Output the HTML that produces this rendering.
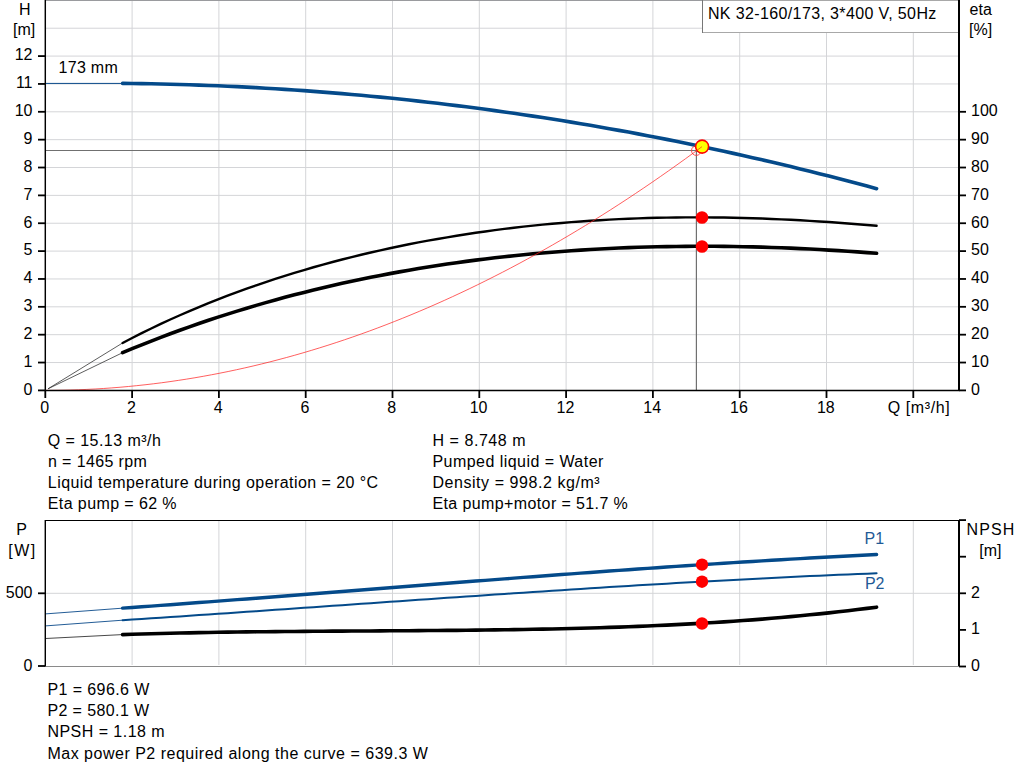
<!DOCTYPE html>
<html><head><meta charset="utf-8"><style>
html,body{margin:0;padding:0;background:#fff;width:1024px;height:781px;overflow:hidden}
svg{display:block}
</style></head><body>
<svg width="1024" height="781" viewBox="0 0 1024 781">
<line x1="132.10" y1="0" x2="132.10" y2="390" stroke="#d4d5d8" stroke-width="1"/>
<line x1="218.90" y1="0" x2="218.90" y2="390" stroke="#d4d5d8" stroke-width="1"/>
<line x1="305.70" y1="0" x2="305.70" y2="390" stroke="#d4d5d8" stroke-width="1"/>
<line x1="392.50" y1="0" x2="392.50" y2="390" stroke="#d4d5d8" stroke-width="1"/>
<line x1="479.30" y1="0" x2="479.30" y2="390" stroke="#d4d5d8" stroke-width="1"/>
<line x1="566.10" y1="0" x2="566.10" y2="390" stroke="#d4d5d8" stroke-width="1"/>
<line x1="652.90" y1="0" x2="652.90" y2="390" stroke="#d4d5d8" stroke-width="1"/>
<line x1="739.70" y1="0" x2="739.70" y2="390" stroke="#d4d5d8" stroke-width="1"/>
<line x1="826.50" y1="0" x2="826.50" y2="390" stroke="#d4d5d8" stroke-width="1"/>
<line x1="913.30" y1="0" x2="913.30" y2="390" stroke="#d4d5d8" stroke-width="1"/>
<line x1="45" y1="362.54" x2="959" y2="362.54" stroke="#d4d5d8" stroke-width="1"/>
<line x1="45" y1="334.68" x2="959" y2="334.68" stroke="#d4d5d8" stroke-width="1"/>
<line x1="45" y1="306.82" x2="959" y2="306.82" stroke="#d4d5d8" stroke-width="1"/>
<line x1="45" y1="278.96" x2="959" y2="278.96" stroke="#d4d5d8" stroke-width="1"/>
<line x1="45" y1="251.10" x2="959" y2="251.10" stroke="#d4d5d8" stroke-width="1"/>
<line x1="45" y1="223.24" x2="959" y2="223.24" stroke="#d4d5d8" stroke-width="1"/>
<line x1="45" y1="195.38" x2="959" y2="195.38" stroke="#d4d5d8" stroke-width="1"/>
<line x1="45" y1="167.52" x2="959" y2="167.52" stroke="#d4d5d8" stroke-width="1"/>
<line x1="45" y1="139.66" x2="959" y2="139.66" stroke="#d4d5d8" stroke-width="1"/>
<line x1="45" y1="111.80" x2="959" y2="111.80" stroke="#d4d5d8" stroke-width="1"/>
<line x1="45" y1="83.94" x2="959" y2="83.94" stroke="#d4d5d8" stroke-width="1"/>
<line x1="45" y1="56.08" x2="959" y2="56.08" stroke="#d4d5d8" stroke-width="1"/>
<line x1="45" y1="28.22" x2="959" y2="28.22" stroke="#d4d5d8" stroke-width="1"/>
<line x1="45" y1="0.5" x2="959" y2="0.5" stroke="#9a9b9e" stroke-width="1"/>
<line x1="132.10" y1="520" x2="132.10" y2="665" stroke="#d4d5d8" stroke-width="1"/>
<line x1="218.90" y1="520" x2="218.90" y2="665" stroke="#d4d5d8" stroke-width="1"/>
<line x1="305.70" y1="520" x2="305.70" y2="665" stroke="#d4d5d8" stroke-width="1"/>
<line x1="392.50" y1="520" x2="392.50" y2="665" stroke="#d4d5d8" stroke-width="1"/>
<line x1="479.30" y1="520" x2="479.30" y2="665" stroke="#d4d5d8" stroke-width="1"/>
<line x1="566.10" y1="520" x2="566.10" y2="665" stroke="#d4d5d8" stroke-width="1"/>
<line x1="652.90" y1="520" x2="652.90" y2="665" stroke="#d4d5d8" stroke-width="1"/>
<line x1="739.70" y1="520" x2="739.70" y2="665" stroke="#d4d5d8" stroke-width="1"/>
<line x1="826.50" y1="520" x2="826.50" y2="665" stroke="#d4d5d8" stroke-width="1"/>
<line x1="913.30" y1="520" x2="913.30" y2="665" stroke="#d4d5d8" stroke-width="1"/>
<line x1="45" y1="593.30" x2="959" y2="593.30" stroke="#d4d5d8" stroke-width="1"/>
<line x1="45" y1="150.5" x2="696.4" y2="150.5" stroke="#707070" stroke-width="1.2"/>
<line x1="696.4" y1="150.5" x2="696.4" y2="390" stroke="#707070" stroke-width="1.2"/>
<line x1="45" y1="83.42" x2="122.6" y2="83.42" stroke="#0a4a8a" stroke-width="1"/>
<line x1="48" y1="388.8" x2="122.6" y2="342.96" stroke="#333" stroke-width="0.8"/>
<line x1="48" y1="388.8" x2="122.6" y2="352.67" stroke="#333" stroke-width="0.8"/>
<path d="M122.60,83.42 L132.14,83.51 L141.69,83.64 L151.23,83.81 L160.78,84.00 L170.32,84.22 L179.87,84.48 L189.41,84.76 L198.95,85.08 L208.50,85.43 L218.04,85.81 L227.59,86.23 L237.13,86.67 L246.68,87.15 L256.22,87.65 L265.76,88.19 L275.31,88.76 L284.85,89.36 L294.40,90.00 L303.94,90.66 L313.49,91.36 L323.03,92.09 L332.57,92.85 L342.12,93.64 L351.66,94.46 L361.21,95.31 L370.75,96.20 L380.30,97.12 L389.84,98.07 L399.38,99.05 L408.93,100.06 L418.47,101.10 L428.02,102.18 L437.56,103.29 L447.11,104.43 L456.65,105.60 L466.19,106.80 L475.74,108.03 L485.28,109.30 L494.83,110.60 L504.37,111.93 L513.92,113.29 L523.46,114.68 L533.01,116.11 L542.55,117.56 L552.09,119.05 L561.64,120.57 L571.18,122.12 L580.73,123.71 L590.27,125.32 L599.82,126.97 L609.36,128.65 L618.90,130.36 L628.45,132.10 L637.99,133.88 L647.54,135.68 L657.08,137.52 L666.63,139.39 L676.17,141.30 L685.71,143.23 L695.26,145.20 L704.80,147.20 L714.35,149.23 L723.89,151.29 L733.44,153.38 L742.98,155.51 L752.52,157.67 L762.07,159.86 L771.61,162.08 L781.16,164.33 L790.70,166.62 L800.25,168.94 L809.79,171.29 L819.33,173.67 L828.88,176.09 L838.42,178.53 L847.97,181.01 L857.51,183.52 L867.06,186.06 L876.60,188.64" fill="none" stroke="#044a8a" stroke-width="3.6" stroke-linecap="round"/>
<path d="M122.60,342.96 L132.14,337.99 L141.69,333.17 L151.23,328.49 L160.78,323.95 L170.32,319.53 L179.87,315.25 L189.41,311.10 L198.95,307.07 L208.50,303.15 L218.04,299.36 L227.59,295.68 L237.13,292.11 L246.68,288.65 L256.22,285.30 L265.76,282.05 L275.31,278.90 L284.85,275.85 L294.40,272.89 L303.94,270.03 L313.49,267.26 L323.03,264.59 L332.57,262.00 L342.12,259.50 L351.66,257.09 L361.21,254.75 L370.75,252.51 L380.30,250.34 L389.84,248.25 L399.38,246.24 L408.93,244.30 L418.47,242.44 L428.02,240.66 L437.56,238.95 L447.11,237.31 L456.65,235.74 L466.19,234.24 L475.74,232.81 L485.28,231.45 L494.83,230.16 L504.37,228.93 L513.92,227.77 L523.46,226.67 L533.01,225.64 L542.55,224.68 L552.09,223.77 L561.64,222.93 L571.18,222.15 L580.73,221.43 L590.27,220.77 L599.82,220.18 L609.36,219.64 L618.90,219.16 L628.45,218.73 L637.99,218.37 L647.54,218.06 L657.08,217.81 L666.63,217.61 L676.17,217.47 L685.71,217.39 L695.26,217.35 L704.80,217.37 L714.35,217.45 L723.89,217.57 L733.44,217.74 L742.98,217.97 L752.52,218.24 L762.07,218.56 L771.61,218.93 L781.16,219.34 L790.70,219.80 L800.25,220.31 L809.79,220.85 L819.33,221.44 L828.88,222.07 L838.42,222.74 L847.97,223.45 L857.51,224.19 L867.06,224.96 L876.60,225.78" fill="none" stroke="#000" stroke-width="2.4" stroke-linecap="round"/>
<path d="M122.60,352.67 L132.14,348.70 L141.69,344.83 L151.23,341.05 L160.78,337.37 L170.32,333.78 L179.87,330.28 L189.41,326.87 L198.95,323.55 L208.50,320.31 L218.04,317.16 L227.59,314.09 L237.13,311.10 L246.68,308.20 L256.22,305.37 L265.76,302.62 L275.31,299.96 L284.85,297.36 L294.40,294.85 L303.94,292.41 L313.49,290.04 L323.03,287.74 L332.57,285.52 L342.12,283.36 L351.66,281.28 L361.21,279.27 L370.75,277.32 L380.30,275.44 L389.84,273.62 L399.38,271.87 L408.93,270.19 L418.47,268.57 L428.02,267.01 L437.56,265.52 L447.11,264.08 L456.65,262.71 L466.19,261.40 L475.74,260.14 L485.28,258.95 L494.83,257.81 L504.37,256.73 L513.92,255.71 L523.46,254.74 L533.01,253.83 L542.55,252.98 L552.09,252.17 L561.64,251.43 L571.18,250.73 L580.73,250.09 L590.27,249.50 L599.82,248.96 L609.36,248.47 L618.90,248.03 L628.45,247.65 L637.99,247.31 L647.54,247.02 L657.08,246.78 L666.63,246.58 L676.17,246.44 L685.71,246.34 L695.26,246.28 L704.80,246.28 L714.35,246.31 L723.89,246.39 L733.44,246.52 L742.98,246.69 L752.52,246.90 L762.07,247.16 L771.61,247.45 L781.16,247.79 L790.70,248.17 L800.25,248.59 L809.79,249.05 L819.33,249.54 L828.88,250.08 L838.42,250.65 L847.97,251.27 L857.51,251.91 L867.06,252.60 L876.60,253.32" fill="none" stroke="#000" stroke-width="3.6" stroke-linecap="round"/>
<circle cx="696.3" cy="150.6" r="4.8" fill="none" stroke="#ff4040" stroke-width="0.9"/>
<circle cx="702" cy="217.5" r="6.3" fill="#ff0000"/>
<circle cx="702" cy="246.5" r="6.3" fill="#ff0000"/>
<circle cx="702.1" cy="146.6" r="6.5" fill="#ffff00" stroke="#ff0000" stroke-width="1.6"/>
<path d="M45.30,390.40 L53.61,390.36 L61.92,390.24 L70.24,390.05 L78.55,389.78 L86.86,389.42 L95.17,388.99 L103.48,388.49 L111.80,387.90 L120.11,387.24 L128.42,386.49 L136.73,385.67 L145.04,384.78 L153.36,383.80 L161.67,382.75 L169.98,381.61 L178.29,380.40 L186.60,379.11 L194.91,377.75 L203.23,376.30 L211.54,374.78 L219.85,373.18 L228.16,371.50 L236.47,369.74 L244.79,367.91 L253.10,365.99 L261.41,364.00 L269.72,361.93 L278.03,359.78 L286.35,357.56 L294.66,355.25 L302.97,352.87 L311.28,350.41 L319.59,347.87 L327.91,345.26 L336.22,342.56 L344.53,339.79 L352.84,336.94 L361.15,334.01 L369.47,331.00 L377.78,327.92 L386.09,324.75 L394.40,321.51 L402.71,318.19 L411.02,314.80 L419.34,311.32 L427.65,307.77 L435.96,304.14 L444.27,300.43 L452.58,296.64 L460.90,292.77 L469.21,288.83 L477.52,284.81 L485.83,280.70 L494.14,276.53 L502.46,272.27 L510.77,267.94 L519.08,263.52 L527.39,259.03 L535.70,254.46 L544.02,249.82 L552.33,245.09 L560.64,240.29 L568.95,235.41 L577.26,230.45 L585.58,225.41 L593.89,220.29 L602.20,215.10 L610.51,209.83 L618.82,204.48 L627.13,199.05 L635.45,193.54 L643.76,187.96 L652.07,182.30 L660.38,176.55 L668.69,170.74 L677.01,164.84 L685.32,158.86 L693.63,152.81 L701.94,146.68" fill="none" stroke="#ff2020" stroke-width="0.72"/>
<line x1="45.5" y1="613.9" x2="122.6" y2="608.16" stroke="#0a4a8a" stroke-width="0.9"/>
<path d="M122.60,608.16 L132.14,607.47 L141.69,606.78 L151.23,606.09 L160.78,605.39 L170.32,604.69 L179.87,603.98 L189.41,603.27 L198.95,602.55 L208.50,601.83 L218.04,601.11 L227.59,600.39 L237.13,599.66 L246.68,598.93 L256.22,598.19 L265.76,597.46 L275.31,596.72 L284.85,595.98 L294.40,595.24 L303.94,594.49 L313.49,593.75 L323.03,593.00 L332.57,592.25 L342.12,591.51 L351.66,590.76 L361.21,590.01 L370.75,589.26 L380.30,588.51 L389.84,587.76 L399.38,587.01 L408.93,586.27 L418.47,585.52 L428.02,584.77 L437.56,584.03 L447.11,583.28 L456.65,582.54 L466.19,581.80 L475.74,581.06 L485.28,580.33 L494.83,579.60 L504.37,578.87 L513.92,578.14 L523.46,577.41 L533.01,576.69 L542.55,575.97 L552.09,575.26 L561.64,574.55 L571.18,573.84 L580.73,573.14 L590.27,572.44 L599.82,571.75 L609.36,571.06 L618.90,570.37 L628.45,569.70 L637.99,569.02 L647.54,568.36 L657.08,567.70 L666.63,567.04 L676.17,566.39 L685.71,565.75 L695.26,565.11 L704.80,564.48 L714.35,563.86 L723.89,563.25 L733.44,562.64 L742.98,562.04 L752.52,561.45 L762.07,560.86 L771.61,560.29 L781.16,559.72 L790.70,559.16 L800.25,558.61 L809.79,558.07 L819.33,557.54 L828.88,557.02 L838.42,556.50 L847.97,556.00 L857.51,555.51 L867.06,555.03 L876.60,554.55" fill="none" stroke="#044a8a" stroke-width="3.4" stroke-linecap="round"/>
<line x1="45.5" y1="625.9" x2="122.6" y2="620.19" stroke="#0a4a8a" stroke-width="0.9"/>
<path d="M122.60,620.19 L132.14,619.57 L141.69,618.94 L151.23,618.31 L160.78,617.68 L170.32,617.04 L179.87,616.40 L189.41,615.76 L198.95,615.11 L208.50,614.46 L218.04,613.81 L227.59,613.15 L237.13,612.49 L246.68,611.83 L256.22,611.17 L265.76,610.51 L275.31,609.85 L284.85,609.18 L294.40,608.51 L303.94,607.84 L313.49,607.18 L323.03,606.51 L332.57,605.84 L342.12,605.17 L351.66,604.50 L361.21,603.83 L370.75,603.16 L380.30,602.49 L389.84,601.82 L399.38,601.15 L408.93,600.49 L418.47,599.82 L428.02,599.16 L437.56,598.50 L447.11,597.84 L456.65,597.18 L466.19,596.53 L475.74,595.88 L485.28,595.23 L494.83,594.58 L504.37,593.94 L513.92,593.29 L523.46,592.66 L533.01,592.02 L542.55,591.40 L552.09,590.77 L561.64,590.15 L571.18,589.53 L580.73,588.92 L590.27,588.31 L599.82,587.71 L609.36,587.11 L618.90,586.52 L628.45,585.94 L637.99,585.36 L647.54,584.78 L657.08,584.21 L666.63,583.65 L676.17,583.10 L685.71,582.55 L695.26,582.01 L704.80,581.47 L714.35,580.94 L723.89,580.42 L733.44,579.91 L742.98,579.41 L752.52,578.91 L762.07,578.42 L771.61,577.94 L781.16,577.47 L790.70,577.01 L800.25,576.56 L809.79,576.12 L819.33,575.68 L828.88,575.26 L838.42,574.84 L847.97,574.44 L857.51,574.04 L867.06,573.66 L876.60,573.29" fill="none" stroke="#044a8a" stroke-width="2.0" stroke-linecap="round"/>
<line x1="45.5" y1="638.5" x2="122.6" y2="634.59" stroke="#333" stroke-width="0.9"/>
<path d="M122.60,634.59 L132.14,634.28 L141.69,634.00 L151.23,633.73 L160.78,633.48 L170.32,633.25 L179.87,633.04 L189.41,632.84 L198.95,632.65 L208.50,632.48 L218.04,632.32 L227.59,632.17 L237.13,632.04 L246.68,631.91 L256.22,631.80 L265.76,631.69 L275.31,631.60 L284.85,631.51 L294.40,631.43 L303.94,631.35 L313.49,631.28 L323.03,631.22 L332.57,631.15 L342.12,631.10 L351.66,631.04 L361.21,630.98 L370.75,630.93 L380.30,630.88 L389.84,630.82 L399.38,630.76 L408.93,630.70 L418.47,630.64 L428.02,630.57 L437.56,630.50 L447.11,630.42 L456.65,630.34 L466.19,630.25 L475.74,630.15 L485.28,630.04 L494.83,629.92 L504.37,629.79 L513.92,629.64 L523.46,629.49 L533.01,629.32 L542.55,629.14 L552.09,628.94 L561.64,628.73 L571.18,628.50 L580.73,628.26 L590.27,627.99 L599.82,627.71 L609.36,627.40 L618.90,627.08 L628.45,626.73 L637.99,626.36 L647.54,625.97 L657.08,625.55 L666.63,625.11 L676.17,624.64 L685.71,624.14 L695.26,623.62 L704.80,623.06 L714.35,622.48 L723.89,621.87 L733.44,621.22 L742.98,620.55 L752.52,619.84 L762.07,619.09 L771.61,618.31 L781.16,617.50 L790.70,616.65 L800.25,615.76 L809.79,614.83 L819.33,613.86 L828.88,612.85 L838.42,611.80 L847.97,610.71 L857.51,609.58 L867.06,608.40 L876.60,607.17" fill="none" stroke="#000" stroke-width="3.6" stroke-linecap="round"/>
<circle cx="702" cy="564.6" r="6.2" fill="#ff0000"/>
<circle cx="702" cy="581.7" r="6.2" fill="#ff0000"/>
<circle cx="702" cy="623.5" r="6.2" fill="#ff0000"/>
<rect x="702.5" y="0.5" width="256" height="32" fill="#fff" stroke="#a8a8a8" stroke-width="1"/>
<line x1="702.5" y1="0" x2="702.5" y2="33" stroke="#777" stroke-width="1"/>
<line x1="45.3" y1="0" x2="45.3" y2="391" stroke="#000" stroke-width="1.45"/>
<line x1="45" y1="390.5" x2="959.5" y2="390.5" stroke="#000" stroke-width="1.3"/>
<line x1="959" y1="0" x2="959" y2="391" stroke="#000" stroke-width="2"/>
<line x1="38" y1="390.40" x2="45.5" y2="390.40" stroke="#000" stroke-width="1.8"/>
<text x="32.5" y="394.70" text-anchor="end" font-size="16" font-family="Liberation Sans, sans-serif">0</text>
<line x1="38" y1="362.54" x2="45.5" y2="362.54" stroke="#000" stroke-width="1.8"/>
<text x="32.5" y="366.84" text-anchor="end" font-size="16" font-family="Liberation Sans, sans-serif">1</text>
<line x1="38" y1="334.68" x2="45.5" y2="334.68" stroke="#000" stroke-width="1.8"/>
<text x="32.5" y="338.98" text-anchor="end" font-size="16" font-family="Liberation Sans, sans-serif">2</text>
<line x1="38" y1="306.82" x2="45.5" y2="306.82" stroke="#000" stroke-width="1.8"/>
<text x="32.5" y="311.12" text-anchor="end" font-size="16" font-family="Liberation Sans, sans-serif">3</text>
<line x1="38" y1="278.96" x2="45.5" y2="278.96" stroke="#000" stroke-width="1.8"/>
<text x="32.5" y="283.26" text-anchor="end" font-size="16" font-family="Liberation Sans, sans-serif">4</text>
<line x1="38" y1="251.10" x2="45.5" y2="251.10" stroke="#000" stroke-width="1.8"/>
<text x="32.5" y="255.40" text-anchor="end" font-size="16" font-family="Liberation Sans, sans-serif">5</text>
<line x1="38" y1="223.24" x2="45.5" y2="223.24" stroke="#000" stroke-width="1.8"/>
<text x="32.5" y="227.54" text-anchor="end" font-size="16" font-family="Liberation Sans, sans-serif">6</text>
<line x1="38" y1="195.38" x2="45.5" y2="195.38" stroke="#000" stroke-width="1.8"/>
<text x="32.5" y="199.68" text-anchor="end" font-size="16" font-family="Liberation Sans, sans-serif">7</text>
<line x1="38" y1="167.52" x2="45.5" y2="167.52" stroke="#000" stroke-width="1.8"/>
<text x="32.5" y="171.82" text-anchor="end" font-size="16" font-family="Liberation Sans, sans-serif">8</text>
<line x1="38" y1="139.66" x2="45.5" y2="139.66" stroke="#000" stroke-width="1.8"/>
<text x="32.5" y="143.96" text-anchor="end" font-size="16" font-family="Liberation Sans, sans-serif">9</text>
<line x1="38" y1="111.80" x2="45.5" y2="111.80" stroke="#000" stroke-width="1.8"/>
<text x="32.5" y="116.10" text-anchor="end" font-size="16" font-family="Liberation Sans, sans-serif">10</text>
<line x1="38" y1="83.94" x2="45.5" y2="83.94" stroke="#000" stroke-width="1.8"/>
<text x="32.5" y="88.24" text-anchor="end" font-size="16" font-family="Liberation Sans, sans-serif">11</text>
<line x1="38" y1="56.08" x2="45.5" y2="56.08" stroke="#000" stroke-width="1.8"/>
<text x="32.5" y="60.38" text-anchor="end" font-size="16" font-family="Liberation Sans, sans-serif">12</text>
<line x1="959" y1="390.40" x2="966" y2="390.40" stroke="#000" stroke-width="1.8"/>
<text x="971" y="394.70" font-size="16" font-family="Liberation Sans, sans-serif">0</text>
<line x1="959" y1="362.54" x2="966" y2="362.54" stroke="#000" stroke-width="1.8"/>
<text x="971" y="366.84" font-size="16" font-family="Liberation Sans, sans-serif">10</text>
<line x1="959" y1="334.68" x2="966" y2="334.68" stroke="#000" stroke-width="1.8"/>
<text x="971" y="338.98" font-size="16" font-family="Liberation Sans, sans-serif">20</text>
<line x1="959" y1="306.82" x2="966" y2="306.82" stroke="#000" stroke-width="1.8"/>
<text x="971" y="311.12" font-size="16" font-family="Liberation Sans, sans-serif">30</text>
<line x1="959" y1="278.96" x2="966" y2="278.96" stroke="#000" stroke-width="1.8"/>
<text x="971" y="283.26" font-size="16" font-family="Liberation Sans, sans-serif">40</text>
<line x1="959" y1="251.10" x2="966" y2="251.10" stroke="#000" stroke-width="1.8"/>
<text x="971" y="255.40" font-size="16" font-family="Liberation Sans, sans-serif">50</text>
<line x1="959" y1="223.24" x2="966" y2="223.24" stroke="#000" stroke-width="1.8"/>
<text x="971" y="227.54" font-size="16" font-family="Liberation Sans, sans-serif">60</text>
<line x1="959" y1="195.38" x2="966" y2="195.38" stroke="#000" stroke-width="1.8"/>
<text x="971" y="199.68" font-size="16" font-family="Liberation Sans, sans-serif">70</text>
<line x1="959" y1="167.52" x2="966" y2="167.52" stroke="#000" stroke-width="1.8"/>
<text x="971" y="171.82" font-size="16" font-family="Liberation Sans, sans-serif">80</text>
<line x1="959" y1="139.66" x2="966" y2="139.66" stroke="#000" stroke-width="1.8"/>
<text x="971" y="143.96" font-size="16" font-family="Liberation Sans, sans-serif">90</text>
<line x1="959" y1="111.80" x2="966" y2="111.80" stroke="#000" stroke-width="1.8"/>
<text x="971" y="116.10" font-size="16" font-family="Liberation Sans, sans-serif">100</text>
<line x1="45.30" y1="390" x2="45.30" y2="398" stroke="#000" stroke-width="1.8"/>
<text x="44.60" y="412.6" text-anchor="middle" font-size="16" font-family="Liberation Sans, sans-serif">0</text>
<line x1="132.10" y1="390" x2="132.10" y2="398" stroke="#000" stroke-width="1.8"/>
<text x="131.40" y="412.6" text-anchor="middle" font-size="16" font-family="Liberation Sans, sans-serif">2</text>
<line x1="218.90" y1="390" x2="218.90" y2="398" stroke="#000" stroke-width="1.8"/>
<text x="218.20" y="412.6" text-anchor="middle" font-size="16" font-family="Liberation Sans, sans-serif">4</text>
<line x1="305.70" y1="390" x2="305.70" y2="398" stroke="#000" stroke-width="1.8"/>
<text x="305.00" y="412.6" text-anchor="middle" font-size="16" font-family="Liberation Sans, sans-serif">6</text>
<line x1="392.50" y1="390" x2="392.50" y2="398" stroke="#000" stroke-width="1.8"/>
<text x="391.80" y="412.6" text-anchor="middle" font-size="16" font-family="Liberation Sans, sans-serif">8</text>
<line x1="479.30" y1="390" x2="479.30" y2="398" stroke="#000" stroke-width="1.8"/>
<text x="478.60" y="412.6" text-anchor="middle" font-size="16" font-family="Liberation Sans, sans-serif">10</text>
<line x1="566.10" y1="390" x2="566.10" y2="398" stroke="#000" stroke-width="1.8"/>
<text x="565.40" y="412.6" text-anchor="middle" font-size="16" font-family="Liberation Sans, sans-serif">12</text>
<line x1="652.90" y1="390" x2="652.90" y2="398" stroke="#000" stroke-width="1.8"/>
<text x="652.20" y="412.6" text-anchor="middle" font-size="16" font-family="Liberation Sans, sans-serif">14</text>
<line x1="739.70" y1="390" x2="739.70" y2="398" stroke="#000" stroke-width="1.8"/>
<text x="739.00" y="412.6" text-anchor="middle" font-size="16" font-family="Liberation Sans, sans-serif">16</text>
<line x1="826.50" y1="390" x2="826.50" y2="398" stroke="#000" stroke-width="1.8"/>
<text x="825.80" y="412.6" text-anchor="middle" font-size="16" font-family="Liberation Sans, sans-serif">18</text>
<line x1="913.30" y1="390" x2="913.30" y2="398" stroke="#000" stroke-width="1.8"/>
<line x1="45" y1="520.5" x2="959" y2="520.5" stroke="#000" stroke-width="1.2"/>
<line x1="45.3" y1="520" x2="45.3" y2="667" stroke="#000" stroke-width="1.45"/>
<line x1="45" y1="666.5" x2="959" y2="666.5" stroke="#8a8a8a" stroke-width="1"/>
<line x1="959" y1="520" x2="959" y2="666" stroke="#000" stroke-width="2"/>
<line x1="38" y1="666.00" x2="45.5" y2="666.00" stroke="#000" stroke-width="1.8"/>
<text x="32.5" y="671.10" text-anchor="end" font-size="16" font-family="Liberation Sans, sans-serif">0</text>
<line x1="38" y1="593.30" x2="45.5" y2="593.30" stroke="#000" stroke-width="1.8"/>
<text x="32.5" y="597.60" text-anchor="end" font-size="16" font-family="Liberation Sans, sans-serif">500</text>
<line x1="959" y1="666.50" x2="966" y2="666.50" stroke="#000" stroke-width="1.8"/>
<text x="971" y="670.80" font-size="16" font-family="Liberation Sans, sans-serif">0</text>
<line x1="959" y1="629.90" x2="966" y2="629.90" stroke="#000" stroke-width="1.8"/>
<text x="971" y="634.20" font-size="16" font-family="Liberation Sans, sans-serif">1</text>
<line x1="959" y1="593.30" x2="966" y2="593.30" stroke="#000" stroke-width="1.8"/>
<text x="971" y="597.60" font-size="16" font-family="Liberation Sans, sans-serif">2</text>
<line x1="959" y1="556.70" x2="966" y2="556.70" stroke="#000" stroke-width="1.8"/>
<line x1="959" y1="520.10" x2="966" y2="520.10" stroke="#000" stroke-width="1.8"/>
<text x="47.70" y="445.8" font-size="16" font-family="Liberation Sans, sans-serif" textLength="113.17" lengthAdjust="spacing">Q = 15.13 m³/h</text>
<text x="48.00" y="466.9" font-size="16" font-family="Liberation Sans, sans-serif" textLength="98.93" lengthAdjust="spacing">n = 1465 rpm</text>
<text x="47.80" y="488.0" font-size="16" font-family="Liberation Sans, sans-serif" textLength="330.34" lengthAdjust="spacing">Liquid temperature during operation = 20 °C</text>
<text x="47.80" y="509.1" font-size="16" font-family="Liberation Sans, sans-serif" textLength="128.79" lengthAdjust="spacing">Eta pump = 62 %</text>
<text x="432.40" y="445.8" font-size="16" font-family="Liberation Sans, sans-serif" textLength="93.21" lengthAdjust="spacing">H = 8.748 m</text>
<text x="432.40" y="466.9" font-size="16" font-family="Liberation Sans, sans-serif" textLength="170.92" lengthAdjust="spacing">Pumped liquid = Water</text>
<text x="432.40" y="488.0" font-size="16" font-family="Liberation Sans, sans-serif" textLength="167.28" lengthAdjust="spacing">Density = 998.2 kg/m³</text>
<text x="432.40" y="509.1" font-size="16" font-family="Liberation Sans, sans-serif" textLength="195.38" lengthAdjust="spacing">Eta pump+motor = 51.7 %</text>
<text x="47.40" y="694.6" font-size="16" font-family="Liberation Sans, sans-serif" textLength="101.99" lengthAdjust="spacing">P1 = 696.6 W</text>
<text x="47.40" y="716.0" font-size="16" font-family="Liberation Sans, sans-serif" textLength="101.79" lengthAdjust="spacing">P2 = 580.1 W</text>
<text x="47.40" y="737.4" font-size="16" font-family="Liberation Sans, sans-serif" textLength="117.21" lengthAdjust="spacing">NPSH = 1.18 m</text>
<text x="47.40" y="758.8" font-size="16" font-family="Liberation Sans, sans-serif" textLength="380.49" lengthAdjust="spacing">Max power P2 required along the curve = 639.3 W</text>
<text x="707.90" y="18.75" font-size="16" font-family="Liberation Sans, sans-serif" textLength="228.43" lengthAdjust="spacing">NK 32-160/173, 3*400 V, 50Hz</text>
<text x="58.60" y="73.0" font-size="16" font-family="Liberation Sans, sans-serif" textLength="59.20" lengthAdjust="spacing">173 mm</text>
<text x="887.80" y="412.5" font-size="16" font-family="Liberation Sans, sans-serif" textLength="61.78" lengthAdjust="spacing">Q [m³/h]</text>
<text x="18.90" y="14.6" font-size="16" font-family="Liberation Sans, sans-serif">H</text>
<text x="13.10" y="34.5" font-size="16" font-family="Liberation Sans, sans-serif">[m]</text>
<text x="969.60" y="14.6" font-size="16" font-family="Liberation Sans, sans-serif">eta</text>
<text x="969.10" y="34.5" font-size="16" font-family="Liberation Sans, sans-serif">[%]</text>
<text x="16.30" y="535.0" font-size="16" font-family="Liberation Sans, sans-serif">P</text>
<text x="8.20" y="556.0" font-size="16" font-family="Liberation Sans, sans-serif" textLength="27.00" lengthAdjust="spacing">[W]</text>
<text x="966.50" y="534.8" font-size="16" font-family="Liberation Sans, sans-serif" textLength="47.85" lengthAdjust="spacing">NPSH</text>
<text x="979.30" y="555.5" font-size="16" font-family="Liberation Sans, sans-serif">[m]</text>
<text x="864.50" y="544.0" font-size="16" font-family="Liberation Sans, sans-serif" fill="#1f5a96">P1</text>
<text x="864.90" y="588.9" font-size="16" font-family="Liberation Sans, sans-serif" fill="#1f5a96">P2</text>
</svg>
</body></html>
